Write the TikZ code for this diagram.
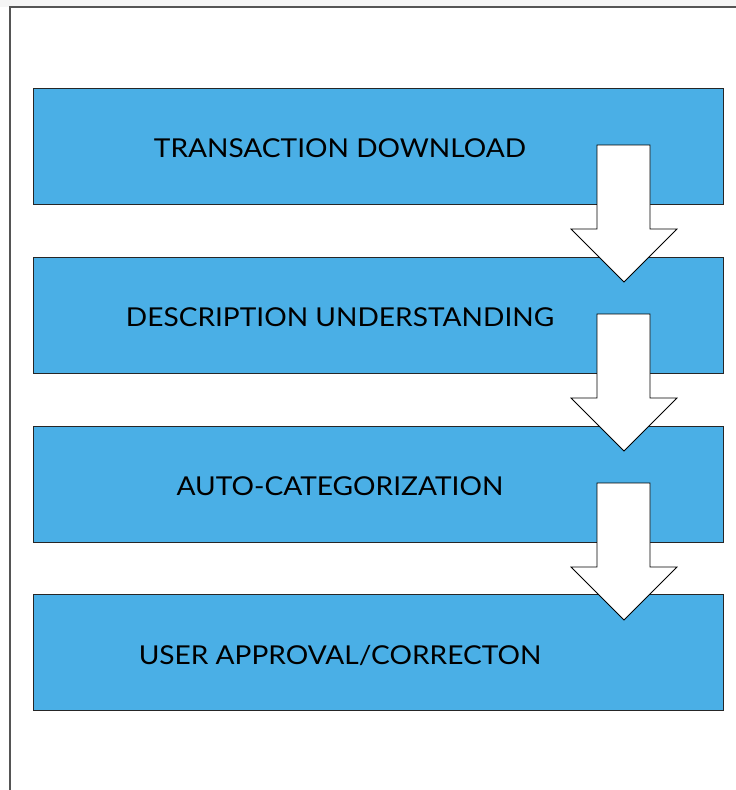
\documentclass[tikz,border=0pt]{standalone}
\usepackage{fontspec}
\setmainfont{Lato}
\newfontfamily\widelato[FakeStretch=1.08]{Lato}
\definecolor{boxblue}{HTML}{4AAFE6}
\definecolor{framegray}{HTML}{555555}
\begin{document}
\begin{tikzpicture}[x=1pt,y=-1pt,
  stepbox/.style={draw=black!85,line width=1pt,fill=boxblue,minimum width=690pt,minimum height=116pt,inner sep=0pt},
  steplabel/.style={font=\widelato\fontsize{26}{30}\selectfont,text=black,inner sep=0pt,anchor=base},
  bigarrow/.style={draw=black,line width=0.8pt,fill=white,line join=miter}]
\useasboundingbox (0,0) rectangle (736,790);
\fill[black!4] (0,0) rectangle (736,7);
\draw[framegray,line width=1.2pt] (10,790) -- (10,7) -- (736,7);
% boxes
\node[stepbox] (b1) at (378,146) {};
\node[stepbox] (b2) at (378,315) {};
\node[stepbox] (b3) at (378,484) {};
\node[stepbox] (b4) at (378,652) {};
\node[steplabel] (t1) at (340,157) {TRANSACTION DOWNLOAD};
\node[steplabel] (t2) at (340,326) {DESCRIPTION UNDERSTANDING};
\node[steplabel] (t3) at (340,495) {AUTO-CATEGORIZATION};
\node[steplabel] (t4) at (340,664) {USER APPROVAL/CORRECTON};
% arrows
\foreach \y in {145,314,483}{
  \draw[bigarrow] (597,\y) -- (650,\y) -- (650,\y+84) -- (677,\y+84) -- (624,\y+137) -- (571,\y+84) -- (597,\y+84) -- cycle;
}
\end{tikzpicture}
\end{document}
